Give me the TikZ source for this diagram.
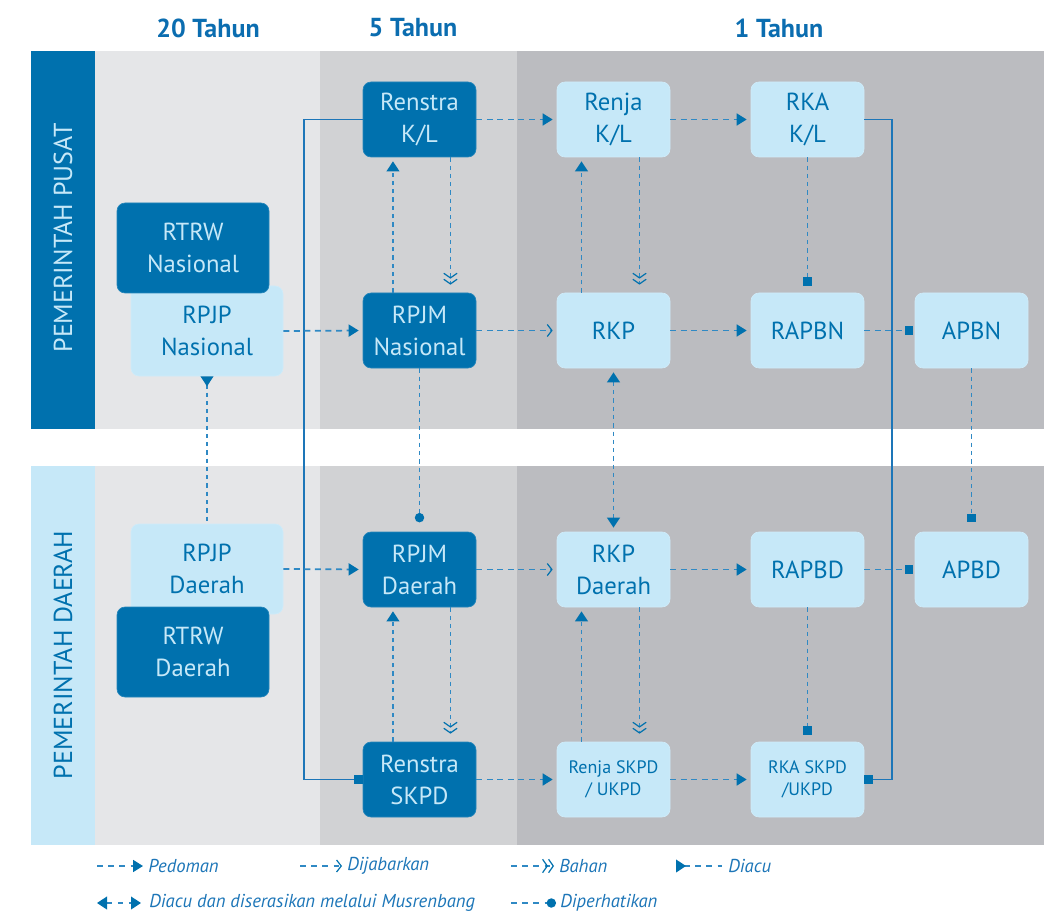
\documentclass[tikz,border=0pt]{standalone}
\usepackage{fontspec}
\setmainfont{PT Sans}
\usetikzlibrary{arrows.meta}
\definecolor{dblue}{HTML}{0071AE}
\definecolor{lblue}{HTML}{C6E8F8}
\definecolor{colA}{HTML}{E5E6E8}
\definecolor{colB}{HTML}{D1D2D4}
\definecolor{colC}{HTML}{BBBCC0}
\definecolor{lineblue}{HTML}{2F89C4}
\definecolor{solblue}{HTML}{1D76B8}
\definecolor{txtblue}{HTML}{0B6DB0}
\begin{document}
\begin{tikzpicture}[x=0.75pt,y=-0.75pt,
  box/.style={rounded corners=6pt, minimum width=84.75pt, minimum height=56.25pt, inner sep=0pt, align=center, font=\fontsize{18.5}{24}\selectfont},
  dbox/.style={box, fill=dblue, text=lblue, draw=dblue!85!white, line width=0.5pt},
  lbox/.style={box, fill=lblue, text=dblue, draw=lblue!85!white, line width=0.5pt},
  big/.style={minimum width=114pt, minimum height=67.5pt},
  smalltext/.style={font=\fontsize{13.5}{17}\selectfont},
  hdr/.style={text=txtblue, font=\fontsize{19.5}{22}\selectfont\bfseries},
  side/.style={rotate=90, font=\fontsize{19.5}{22}\selectfont},
  legtxt/.style={anchor=west, text=solblue, font=\fontsize{14}{16}\selectfont\itshape, inner sep=0pt},
  conn/.style={draw=lineblue, line width=1.3pt},
  hd/.style={conn, dash pattern=on 4.5pt off 3.4pt},
  vd/.style={conn, dash pattern=on 3.2pt off 3pt},
  ld/.style={conn, dash pattern=on 4.2pt off 4.2pt},
  sl/.style={draw=solblue, line width=1pt},
  ped/.style={-{Triangle[length=7.5pt,width=9pt,color=dblue]}},
  dijab/.style={-{Straight Barb[length=3.5pt,width=9pt,line width=0.9pt,color=dblue]}},
  bahan/.style={-{Straight Barb[length=3.5pt,width=10pt,line width=0.9pt,color=dblue] Straight Barb[length=3.5pt,width=10pt,line width=0.9pt,color=dblue]}},
  sqend/.style={-{Square[length=6.5pt,width=6.5pt,color=dblue]}},
  circend/.style={-{Circle[length=7pt,color=dblue]}},
  diacu/.style={-{Triangle[length=7.5pt,width=9.5pt,color=dblue]}},
  diacurev/.style={{Triangle[reversed,length=7.5pt,width=9.5pt,color=dblue]}-},
  both/.style={{Triangle[length=7.5pt,width=9.5pt,color=dblue]}-{Triangle[length=7.5pt,width=9.5pt,color=dblue]}},
]
\useasboundingbox (0,0) rectangle (1053,916);
\fill[white] (0,0) rectangle (1053,916);
% bands
\fill[dblue] (31,51) rectangle (95,429);
\fill[colA] (95,51) rectangle (319.5,429);
\fill[colB] (319.5,51) rectangle (516.5,429);
\fill[colC] (516.5,51) rectangle (1044,429);
\fill[lblue] (31,466) rectangle (95,845);
\fill[colA] (95,466) rectangle (319.5,845);
\fill[colB] (319.5,466) rectangle (516.5,845);
\fill[colC] (516.5,466) rectangle (1044,845);
% headers
\node[hdr] (h20) at (208,28) {20 Tahun};
\node[hdr] (h5) at (413,28) {5 Tahun};
\node[hdr] (h1) at (779,28) {1 Tahun};
\node[side, text=lblue] (pusat) at (63,238) {PEMERINTAH PUSAT};
\node[side, text=dblue] (daerah) at (63,655) {PEMERINTAH DAERAH};
% nodes
\node[lbox,big] (rpjpn) at (207,331) {RPJP\\Nasional};
\node[dbox,big] (rtrwn) at (193,248) {RTRW\\Nasional};
\node[dbox] (renkl) at (419.5,119.5) {Renstra\\K/L};
\node[lbox] (renjakl) at (613.5,119.5) {Renja\\K/L};
\node[lbox] (rkakl) at (807.5,119.5) {RKA\\K/L};
\node[dbox] (rpjmn) at (419.5,330.5) {RPJM\\Nasional};
\node[lbox] (rkp) at (613.5,330.5) {RKP};
\node[lbox] (rapbn) at (807.5,330.5) {RAPBN};
\node[lbox] (apbn) at (971.5,330.5) {APBN};
\node[lbox,big] (rpjpd) at (207,569) {RPJP\\Daerah};
\node[dbox,big] (rtrwd) at (193,652) {RTRW\\Daerah};
\node[dbox] (rpjmd) at (419.5,569.5) {RPJM\\Daerah};
\node[lbox] (rkpd) at (613.5,569.5) {RKP\\Daerah};
\node[lbox] (rapbd) at (807.5,569.5) {RAPBD};
\node[lbox] (apbd) at (971.5,569.5) {APBD};
\node[dbox] (renskpd) at (419.5,779.5) {Renstra\\SKPD};
\node[lbox,smalltext] (renjaskpd) at (613.5,779.5) {Renja SKPD\\/ UKPD};
\node[lbox,smalltext] (rkaskpd) at (807.5,779.5) {RKA SKPD\\/UKPD};
% solid frame lines
\coordinate (lx) at (304,0);
\coordinate (rx) at (892,0);
\draw[sl,sqend] (renkl.west) -- (renkl.west -| lx) -- (renskpd.west -| lx) -- (renskpd.west);
\draw[sl,sqend] (rkakl.east) -- (rkakl.east -| rx) -- (rkaskpd.east -| rx) -- (rkaskpd.east);
% horizontal connectors, top
\draw[hd,ped,shorten >=3pt] (renkl.east) -- (renjakl.west);
\draw[hd,ped,shorten >=3pt] (renjakl.east) -- (rkakl.west);
\draw[hd,ped,shorten >=3pt] (rpjpn.east) -- (rpjmn.west);
\draw[hd,dijab,shorten >=3pt] (rpjmn.east) -- (rkp.west);
\draw[hd,ped,shorten >=3pt] (rkp.east) -- (rapbn.west);
\draw[hd,sqend,shorten >=1pt] (rapbn.east) -- (apbn.west);
% horizontal connectors, bottom
\draw[hd,ped,shorten >=3pt] (rpjpd.east) -- (rpjmd.west);
\draw[hd,dijab,shorten >=3pt] (rpjmd.east) -- (rkpd.west);
\draw[hd,ped,shorten >=3pt] (rkpd.east) -- (rapbd.west);
\draw[hd,sqend,shorten >=1pt] (rapbd.east) -- (apbd.west);
\draw[hd,ped,shorten >=3pt] (renskpd.east) -- (renjaskpd.west);
\draw[hd,ped,shorten >=3pt] (renjaskpd.east) -- (rkaskpd.west);
% vertical connectors
\draw[vd,diacu,shorten >=3pt] ([xshift=-19.9pt]rpjmn.north) -- ([xshift=-19.9pt]renkl.south);
\draw[vd,bahan,shorten >=6pt] ([xshift=23.2pt]renkl.south) -- ([xshift=23.2pt]rpjmn.north);
\draw[vd,diacu,shorten >=3pt] ([xshift=-24pt]rkp.north) -- ([xshift=-24pt]renjakl.south);
\draw[vd,bahan,shorten >=6pt] ([xshift=19.5pt]renjakl.south) -- ([xshift=19.5pt]rkp.north);
\draw[vd,sqend,shorten >=5pt] (rkakl.south) -- (rapbn.north);
\draw[vd,diacurev] (rpjpn.south) -- (rpjpd.north);
\draw[vd,circend,shorten >=7pt] (rpjmn.south) -- (rpjmd.north);
\draw[vd,both,shorten >=3pt,shorten <=3pt] (rkp.south) -- (rkpd.north);
\draw[vd,sqend,shorten >=7pt] (apbn.south) -- (apbd.north);
\draw[vd,diacu,shorten >=3pt] ([xshift=-19.9pt]renskpd.north) -- ([xshift=-19.9pt]rpjmd.south);
\draw[vd,bahan,shorten >=6pt] ([xshift=23.2pt]rpjmd.south) -- ([xshift=23.2pt]renskpd.north);
\draw[vd,diacu,shorten >=3pt] ([xshift=-24pt]renjaskpd.north) -- ([xshift=-24pt]rkpd.south);
\draw[vd,bahan,shorten >=6pt] ([xshift=19.5pt]rkpd.south) -- ([xshift=19.5pt]renjaskpd.north);
\draw[vd,sqend,shorten >=5pt] (rapbd.south) -- (rkaskpd.north);
% legend
\coordinate (p1) at (97,866); \coordinate (p2) at (143,866);
\draw[ld,ped] (p1) -- (p2);
\node[legtxt] (tp) at (148,866) {Pedoman};
\coordinate (d1) at (300,866); \coordinate (d2) at (342,866);
\draw[ld,dijab] (d1) -- (d2);
\node[legtxt] (td) at (347,866) {Dijabarkan};
\coordinate (b1) at (511,866); \coordinate (b2) at (554,866);
\draw[ld,bahan] (b1) -- (b2);
\node[legtxt] (tb) at (559,866) {Bahan};
\coordinate (a1) at (676,866); \coordinate (a2) at (722,866);
\draw[ld,diacurev] (a1) -- (a2);
\node[legtxt] (ta) at (728,866) {Diacu};
\coordinate (m1) at (97,903); \coordinate (m2) at (141,903);
\draw[ld,both] (m1) -- (m2);
\node[legtxt] (tm) at (149,903) {Diacu dan diserasikan melalui Musrenbang};
\coordinate (c1) at (511,903); \coordinate (c2) at (556,903);
\draw[ld,circend] (c1) -- (c2);
\node[legtxt] (tc) at (560,903) {Diperhatikan};
\end{tikzpicture}
\end{document}
